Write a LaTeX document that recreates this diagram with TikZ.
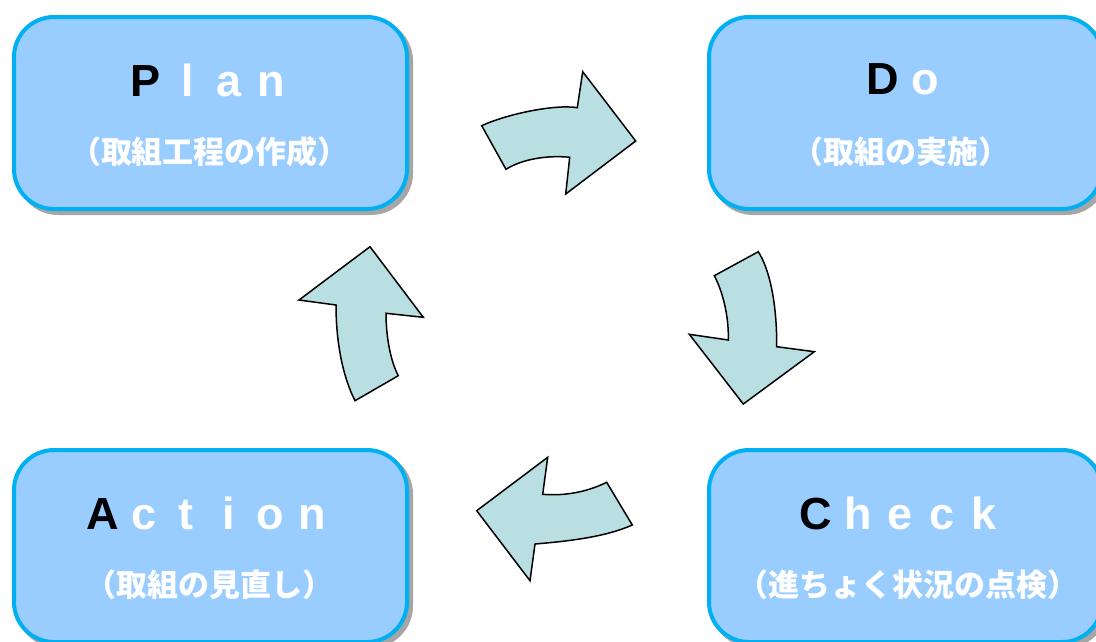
\documentclass[tikz,border=0pt]{standalone}
\usepackage{fontspec}
\setmainfont{Liberation Sans}
\newfontfamily\jp{Noto Sans CJK JP}
\definecolor{boxfill}{HTML}{99CCFF}
\definecolor{boxline}{HTML}{00B0F0}
\definecolor{arrowfill}{HTML}{B9DFE3}
\definecolor{shadowgray}{HTML}{A6A6A6}
\newcommand\fw[1]{\makebox[42pt]{#1}}
\begin{document}
\begin{tikzpicture}[x=1pt,y=-1pt,
  phase/.style={draw=boxline, line width=4pt, fill=boxfill, rounded corners=40pt,
    minimum width=393pt, minimum height=192pt, inner sep=0pt},
  shadowbox/.style={fill=shadowgray, rounded corners=42pt,
    minimum width=397pt, minimum height=196pt, inner sep=0pt},
  title/.style={font=\bfseries\fontsize{45}{45}\selectfont, text=white, inner sep=0pt, anchor=center},
  sub/.style={font=\jp\bfseries\fontsize{31}{31}\selectfont, text=white, inner sep=0pt, anchor=center},
  blockarrow/.style={draw=black, line width=1.5pt, fill=arrowfill, line join=miter}]
\useasboundingbox (0,0) rectangle (1096,641);
\clip (0,0) rectangle (1096,641);
% shadows
\node[shadowbox] (planS) at (214.5,117) {};
\node[shadowbox] (doS) at (909.5,117) {};
\node[shadowbox] (checkS) at (909.5,550) {};
\node[shadowbox] (actS) at (214.5,550) {};
% boxes
\node[phase] (plan) at (210.5,113) {};
\node[phase] (do) at (905.5,113) {};
\node[phase] (check) at (905.5,546) {};
\node[phase] (act) at (210.5,546) {};
% titles
\node[title] (planT) at (208.5,80) {\fw{\textcolor{black}{P}}\fw{l}\fw{a}\fw{n}};
\node[sub] (planU) at (209.5,152) {（取組工程の作成）};
\node[title] (doT) at (904,79) {\fw{\textcolor{black}{D}}\fw{o}};
\node[sub] (doU) at (900.5,152) {（取組の実施）};
\node[title] (checkT) at (900,513) {\fw{\textcolor{black}{C}}\fw{h}\fw{e}\fw{c}\fw{k}};
\node[sub] (checkU) at (907.5,585) {（進ちょく状況の点検）};
\node[title] (actT) at (207.5,513) {\fw{\textcolor{black}{A}}\fw{c}\fw{t}\fw{i}\fw{o}\fw{n}};
\node[sub] (actU) at (209.5,585) {（取組の見直し）};
% block arrows
\draw[blockarrow] (481.7,125.7) .. controls (507,114) and (555,104) .. (577.3,107.7)
  -- (582.7,71.7) -- (635.7,141) -- (565.7,194) -- (569.7,157.3)
  .. controls (548,155) and (522,159) .. (506,169.3) -- cycle;
\draw[blockarrow] (714.3,275.7) -- (758.3,251.7)
  .. controls (770,270) and (777,305) .. (776.7,346.7)
  -- (814.3,351.7) -- (743.3,404) -- (689.3,334.3) -- (728.3,340)
  .. controls (729,315) and (722,290) .. cycle;
\draw[blockarrow] (606.7,482.3) .. controls (585,493) and (562,496) .. (542.7,494.3)
  -- (547.7,457.3) -- (476.7,510.7) -- (530,580.7) -- (535,544)
  .. controls (570,541) and (605,537) .. (632.3,525) -- cycle;
\draw[blockarrow] (355,400.7) -- (398.3,375.7)
  .. controls (390,360) and (386,335) .. (386,313.3)
  -- (423.3,317.3) -- (370,246.7) -- (299,300) -- (336,305)
  .. controls (336,340) and (342,375) .. cycle;
\end{tikzpicture}
\end{document}
